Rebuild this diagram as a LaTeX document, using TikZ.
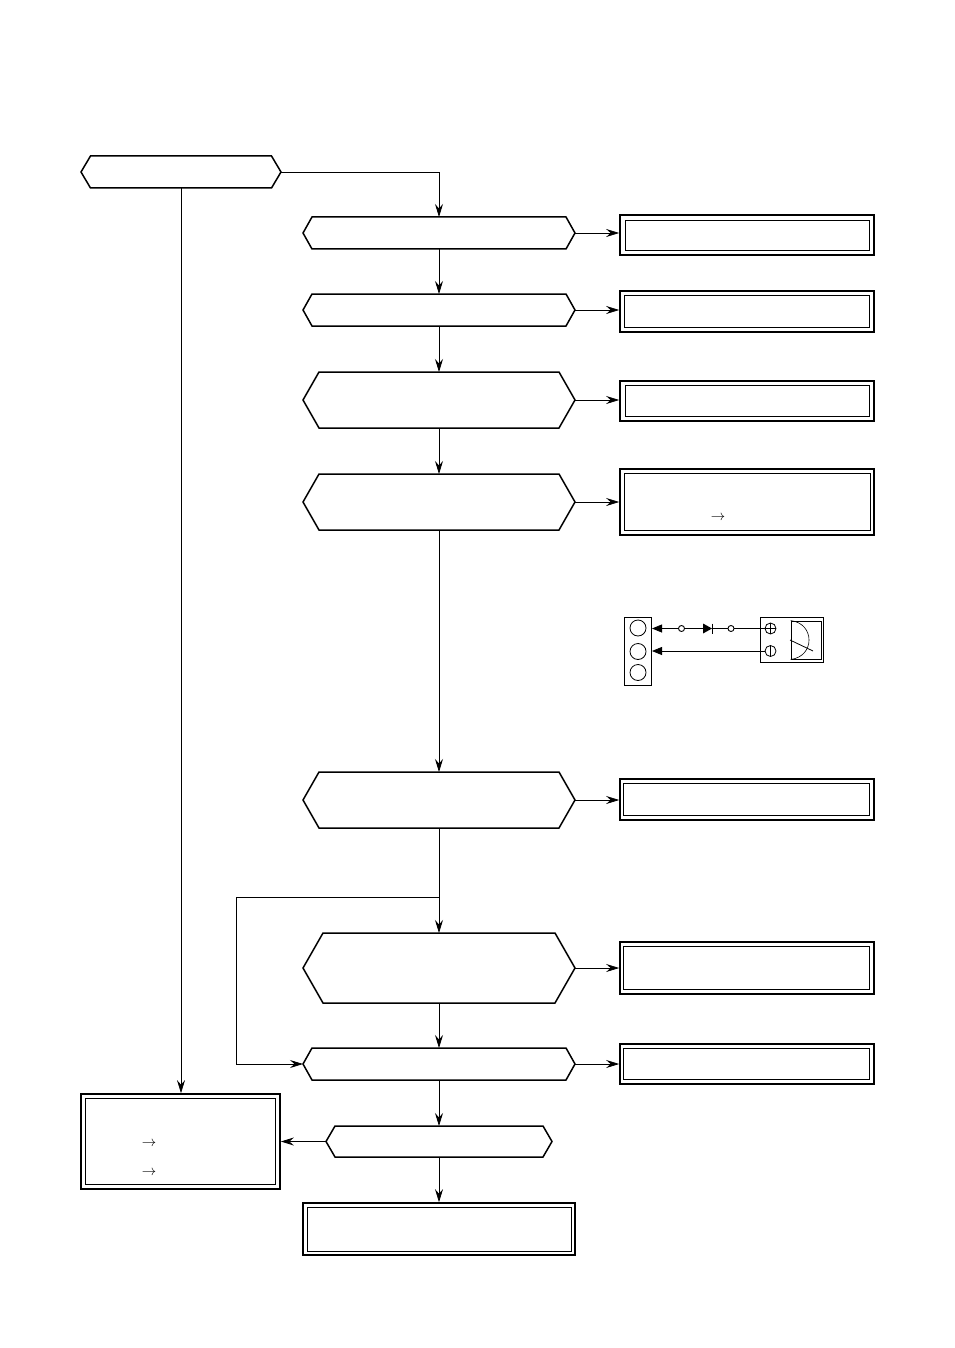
\documentclass[tikz,border=0pt]{standalone}
\usetikzlibrary{arrows.meta}
\tikzset{
  x=1pt,y=-1pt,
  hexline/.style={line width=1.5pt,line join=miter},
  hexbase/.style={inner sep=0pt,outer sep=0pt,draw=none},
  outerbox/.style={draw,line width=1.7pt,inner sep=0pt,outer sep=0.85pt},
  innerbox/.style={draw,line width=0.9pt},
  conn/.style={line width=0.8pt,-{Stealth[length=13pt,width=8pt,inset=4.5pt]}},
  wire/.style={line width=0.8pt},
  smallc/.style={circle,draw,line width=0.9pt,inner sep=0pt,minimum size=6pt,fill=white},
  termc/.style={circle,draw,line width=0.8pt,inner sep=0pt,minimum size=11pt},
  holec/.style={circle,draw,line width=0.8pt,inner sep=0pt,minimum size=16pt},
  arrtext/.style={inner sep=0pt,font=\fontsize{14}{14}\selectfont}
}
% name, x1, y1, x2, y2, chamfer
\newcommand{\hexn}[6]{%
  \pgfmathsetmacro{\wv}{#4-#2}\pgfmathsetmacro{\hv}{#5-#3}%
  \pgfmathsetmacro{\cxv}{(#4+#2)/2}\pgfmathsetmacro{\cyv}{(#5+#3)/2}%
  \draw[hexline] (#2,\cyv) -- (#2+#6,#3) -- (#4-#6,#3) -- (#4,\cyv) -- (#4-#6,#5) -- (#2+#6,#5) -- cycle;
  \node[hexbase,minimum width=\wv pt,minimum height=\hv pt] (#1) at (\cxv,\cyv) {};
}
% name, outer x1,y1,x2,y2, inner x1,y1,x2,y2
\newcommand{\dbox}[9]{%
  \pgfmathsetmacro{\wv}{#4-#2}\pgfmathsetmacro{\hv}{#5-#3}%
  \pgfmathsetmacro{\cxv}{(#4+#2)/2}\pgfmathsetmacro{\cyv}{(#5+#3)/2}%
  \node[outerbox,minimum width=\wv pt,minimum height=\hv pt] (#1) at (\cxv,\cyv) {};
  \draw[innerbox] (#6,#7) rectangle (#8,#9);
}
\begin{document}
\begin{tikzpicture}
\path[fill=white] (0,0) rectangle (954,1348);
\useasboundingbox (0,0) rectangle (954,1348);

\hexn{S}{81}{156}{281}{188}{9.5}
\hexn{H1}{303}{217}{575}{249}{9}
\hexn{H2}{303}{294}{575}{326}{9}
\hexn{H3}{303}{372}{575}{428}{16}
\hexn{H4}{303}{474}{575}{530}{16}
\hexn{H5}{303}{772}{575}{828}{16}
\hexn{H6}{303}{933}{575}{1003}{20}
\hexn{H7}{303}{1048}{575}{1080}{9}
\hexn{H8}{326}{1126}{552}{1157}{9}

\dbox{B1}{620}{215}{874}{255}{625}{220}{869}{250}
\dbox{B2}{620}{291}{874}{332}{624.5}{295.5}{869}{327}
\dbox{B3}{620}{381}{874}{421}{625}{385.5}{869}{416}
\dbox{B4}{620}{469}{874}{535}{624}{473.5}{870}{530}
\dbox{B5}{620}{779}{874}{820}{623.5}{783.5}{869}{815}
\dbox{B6}{620}{942}{874}{994}{623.5}{946.5}{869}{989}
\dbox{B7}{620}{1044}{874}{1084}{623.5}{1048.5}{869}{1079}
\dbox{B8}{81}{1094}{280}{1189}{85.5}{1098.5}{275}{1184.5}
\dbox{B9}{303}{1203}{575}{1255}{307.5}{1207}{571}{1251}

\node[arrtext] (a1) at (718,517.5) {$\rightarrow$};
\node[arrtext] (a2) at (149,1143.5) {$\rightarrow$};
\node[arrtext] (a3) at (149,1172.5) {$\rightarrow$};

% main connectors
\draw[conn] (S.east) -| (H1.north);
\draw[conn] (H1) -- (H2);
\draw[conn] (H2) -- (H3);
\draw[conn] (H3) -- (H4);
\draw[conn] (H4) -- (H5);
\coordinate (J) at (H5.south |- 0,897);
\coordinate (L) at (236,897);
\draw[conn] (H5) -- (H6);
\draw[conn] (H6) -- (H7);
\draw[conn] (H7) -- (H8);
\draw[conn] (H8) -- (B9);
\draw[conn] (J) -- (L) |- (H7.west);
\draw[conn] (S.south) -- (S.south |- B8.north);
\draw[conn] (H8.west) -- (H8.west -| B8.east);
\foreach \n in {1,...,7}{
  \draw[conn] (H\n.east) -- (H\n.east -| B\n.west);
}

% meter sketch
\node[draw,line width=1pt,inner sep=0pt,minimum width=27pt,minimum height=68pt] (blk) at (638,651) {};
\node[holec] (h1) at (638,628) {};
\node[holec] (h2) at (638,651.5) {};
\node[holec] (h3) at (638,672.5) {};
\node[draw,line width=1pt,inner sep=0pt,minimum width=63pt,minimum height=45pt] (mtr) at (791.5,639.5) {};
\node[draw,line width=0.9pt,inner sep=0pt,minimum width=30pt,minimum height=38pt] (dial) at (806,640) {};
\node[termc] (tp) at (770.5,628.5) {};
\node[termc] (tm) at (770.5,651) {};
\draw[line width=0.7pt] (tp.west) -- (tp.east) (tp.north) -- (tp.south) (tm.north) -- (tm.south);
\node[smallc] (c1) at (681.5,628.5) {};
\node[smallc] (c2) at (731,628.5) {};
\coordinate (dl) at (703,628.5);
\coordinate (dr) at (712,628.5);
\draw[wire,{Stealth[length=10pt,width=8pt,inset=0pt]}-] (c1.west -| blk.east) -- (c1.west);
\draw[wire] (c1.east) -- (dl);
\draw[wire] (dr) -- (c2.west);
\draw[wire] (c2.east) -- (tp.west);
\fill (703,623.5) -- (dr) -- (703,633.5) -- cycle;
\draw[wire] (712,623.5) -- (712,633.5);
\draw[wire,{Stealth[length=10pt,width=8pt,inset=0pt]}-] (tm.west -| blk.east) -- (tm.west);
\draw[line width=0.6pt] (dial.north west) .. controls (803,622) and (809,631) .. (809,640) .. controls (809,649) and (803,658) .. (dial.south west);
\draw[line width=0.8pt] (790,640) -- (813,651);
\end{tikzpicture}
\end{document}
